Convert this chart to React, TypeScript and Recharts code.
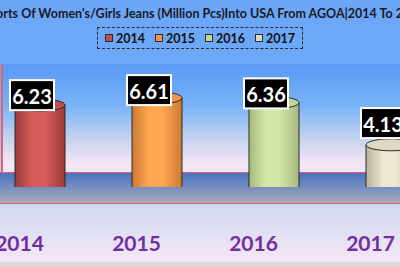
import { Bar, BarChart, LabelList, XAxis, YAxis } from "recharts";

// Excel-style 3D cylinder column chart, cropped on both sides like the source.
const YEARS = ["2014", "2015", "2016", "2017"];
const VALUES = [6.23, 6.61, 6.36, 4.13];
const TITLE = "Exports Of Women's/Girls Jeans (Million Pcs)Into USA From AGOA|2014 To 2017";

// base swatch colour per year, plus the light/dark shades used for the cylinder body
const FILLS = ["#C0504D", "#F79646", "#C3D69B", "#DDD9C3"];
const LIGHT = ["#D85C5B", "#FFA853", "#D6E8A8", "#EEE8D2"];
const DARK = ["#9A3A39", "#CC7A33", "#A6B97E", "#B9B39B"];

const data = YEARS.map((year, i) => ({ year, value: VALUES[i] }));

const FONT = "Lato, 'Open Sans', sans-serif";
// Excel places the 3D data labels on a zero-based scale, not on the cylinder top
const LABEL_PX_PER_UNIT = 13.3;

function Cylinder(props: any) {
  const { x, y, width, height, index } = props;
  const rx = width / 2;
  const ry = 6;
  const bottom = y + height;
  const id = `cyl-grad-${index}`;
  return (
    <g>
      <defs>
        <linearGradient id={id} x1="0" y1="0" x2="1" y2="0">
          <stop offset="0" stopColor={DARK[index]} />
          <stop offset="0.35" stopColor={LIGHT[index]} />
          <stop offset="0.6" stopColor={LIGHT[index]} />
          <stop offset="1" stopColor={DARK[index]} />
        </linearGradient>
      </defs>
      <path
        d={`M${x},${y} L${x},${bottom} A${rx},${ry} 0 0 0 ${x + width},${bottom} L${x + width},${y} Z`}
        fill={`url(#${id})`}
        stroke="#2b2b2b"
        strokeWidth={1}
      />
      <ellipse cx={x + rx} cy={y} rx={rx} ry={ry} fill={FILLS[index]} stroke="#2b2b2b" strokeWidth={1} />
    </g>
  );
}

function ValueTag(props: any) {
  const { x, y, width, height, value } = props;
  const cx = x + width / 2 - 8;
  const w = 44;
  const h = 30;
  const top = y + height - 24 - Number(value) * LABEL_PX_PER_UNIT;
  return (
    <g>
      <rect x={cx - w / 2} y={top} width={w} height={h} fill="#000" stroke="#fff" strokeWidth={2} />
      <text
        x={cx}
        y={top + 16}
        textAnchor="middle"
        dominantBaseline="central"
        fill="#fff"
        fontSize={20}
        fontWeight={700}
        fontFamily={FONT}
      >
        {Number(value).toFixed(2)}
      </text>
    </g>
  );
}

function YearTick(props: any) {
  const { x, y, payload } = props;
  return (
    <text
      x={x - 20}
      y={y + 47}
      textAnchor="middle"
      dominantBaseline="central"
      fill="#7030A0"
      fontSize={21}
      fontWeight={700}
      fontFamily={FONT}
    >
      {payload.value}
    </text>
  );
}

export default function App() {
  return (
    <div
      style={{
        position: "absolute",
        left: 0,
        top: 0,
        width: 400,
        height: 266,
        overflow: "hidden",
        background:
          "linear-gradient(180deg, #6BA6F8 0%, #6FA8F8 30%, #D2D9F1 78%, #F5E7F6 98%)",
        fontFamily: FONT,
      }}
    >
      {/* back wall */}
      <div
        style={{
          position: "absolute",
          left: 1,
          top: 64,
          width: 420,
          height: 109,
          borderLeft: "2px solid #E8606C",
          background: "linear-gradient(180deg, #5A99F5 0%, #78B3F8 38%, #C9D4EE 70%, #F5E6F6 92%)",
        }}
      />
      {/* floor */}
      <div
        style={{
          position: "absolute",
          left: 0,
          top: 172,
          width: 420,
          height: 30,
          borderTop: "1.5px solid #E8606C",
          borderBottom: "1.5px solid #E8606C",
          background: "linear-gradient(180deg, #4673C2 0%, #7A8FC0 50%, #ABABB4 100%)",
        }}
      />
      {/* bottom strip */}
      <div style={{ position: "absolute", left: 0, top: 262, width: 400, height: 4, background: "#D9D9DC" }} />

      <div
        style={{
          position: "absolute",
          left: 200,
          top: 6,
          transform: "translateX(-50%)",
          whiteSpace: "nowrap",
          fontSize: 12.5,
          fontWeight: 700,
          color: "#1A1A24",
          lineHeight: "16px",
        }}
      >
        {TITLE}
      </div>

      <div
        style={{
          position: "absolute",
          left: 97,
          top: 27,
          width: 204,
          height: 20,
          border: "1px dashed #2a2a2a",
          display: "flex",
          alignItems: "center",
          justifyContent: "center",
          gap: 10,
        }}
      >
        {YEARS.map((year, i) => (
          <div key={year} style={{ display: "flex", alignItems: "center", gap: 3 }}>
            <span
              style={{
                display: "inline-block",
                width: 6,
                height: 6,
                background: FILLS[i],
                border: "1px solid #2a2a2a",
              }}
            />
            <span style={{ fontSize: 12.5, fontWeight: 700, color: "#111" }}>{year}</span>
          </div>
        ))}
      </div>

      <div style={{ position: "absolute", left: -40, top: 0 }}>
        <BarChart
          width={500}
          height={266}
          data={data}
          margin={{ top: 64, right: 11, bottom: 0, left: 21 }}
          barCategoryGap={0}
        >
          <XAxis dataKey="year" height={79} axisLine={false} tickLine={false} tick={<YearTick />} interval={0} />
          <YAxis hide domain={[1.9, 8.4]} allowDataOverflow />
          <Bar dataKey="value" barSize={50} shape={<Cylinder />} isAnimationActive={false}>
            <LabelList dataKey="value" content={<ValueTag />} />
          </Bar>
        </BarChart>
      </div>
    </div>
  );
}
